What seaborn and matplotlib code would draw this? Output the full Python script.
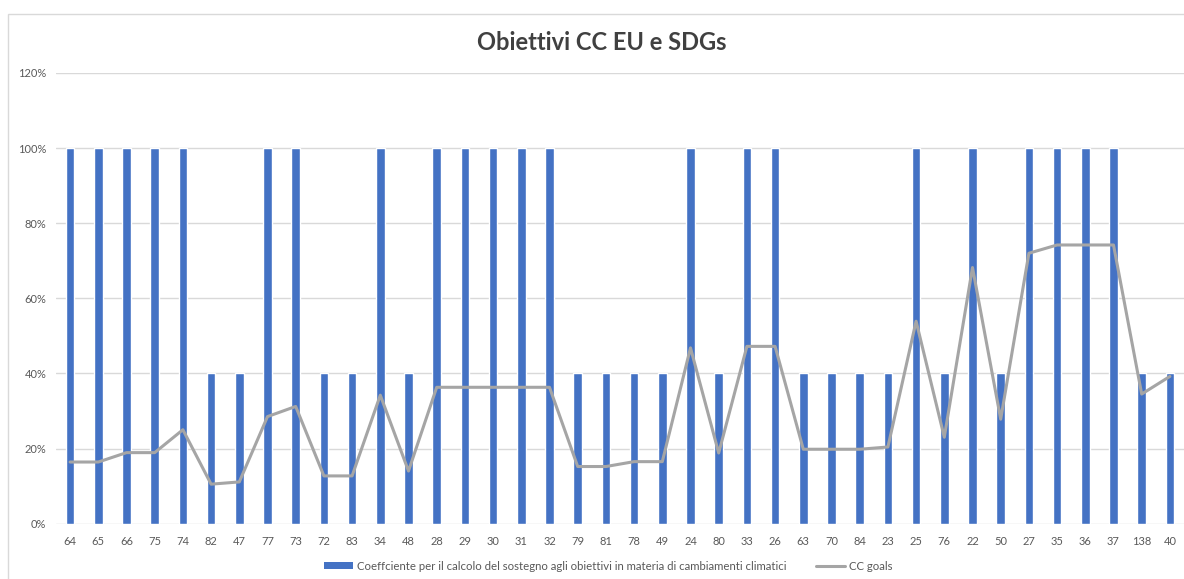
import matplotlib
matplotlib.use("Agg")
import matplotlib.pyplot as plt
import seaborn as sns
import numpy as np
import pandas as pd
from matplotlib.patches import Rectangle, Patch
from matplotlib.lines import Line2D
from matplotlib.ticker import PercentFormatter

categories = ["64", "65", "66", "75", "74", "82", "47", "77", "73", "72",
              "83", "34", "48", "28", "29", "30", "31", "32", "79", "81",
              "78", "49", "24", "80", "33", "26", "63", "70", "84", "23",
              "25", "76", "22", "50", "27", "35", "36", "37", "138", "40"]
coeff = [100, 100, 100, 100, 100, 40, 40, 100, 100, 40,
         40, 100, 40, 100, 100, 100, 100, 100, 40, 40,
         40, 40, 100, 40, 100, 100, 40, 40, 40, 40,
         100, 40, 100, 40, 100, 100, 100, 100, 40, 40]
cc_goals = [16.4, 16.4, 18.9, 18.9, 25.0, 10.5, 11.1, 28.5, 31.2, 12.7,
            12.7, 34.2, 14.0, 36.3, 36.3, 36.3, 36.3, 36.3, 15.2, 15.2,
            16.5, 16.5, 46.8, 18.8, 47.2, 47.2, 19.8, 19.8, 19.8, 20.4,
            53.9, 23.0, 68.2, 27.8, 72.0, 74.2, 74.2, 74.2, 34.5, 39.2]
title = "Obiettivi CC EU e SDGs"
bar_label = "Coeffciente per il calcolo del sostegno agli obiettivi in materia di cambiamenti climatici"
line_label = "CC goals"

sns.set_theme(style="white")
plt.rcParams['font.family'] = ['Lato', 'DejaVu Sans']

fig = plt.figure(figsize=(11.84, 5.79), dpi=100)
fig.patch.set_facecolor("white")
fig.add_artist(Rectangle((8/1184, -0.01), 1.2, 1 - 14/579 + 0.01, transform=fig.transFigure,
                         fill=False, edgecolor="#d9d9d9", linewidth=1.0))

ax = fig.add_axes([56/1184, 1 - 523.6/579, 1 - 56/1184, (523.6 - 73)/579])

df = pd.DataFrame({"cat": categories, "coeff": np.array(coeff) / 100,
                   "goals": np.array(cc_goals) / 100})

sns.barplot(data=df, x="cat", y="coeff", order=categories, color="#4472c4",
            saturation=1, width=0.3, ax=ax, errorbar=None, zorder=2)
sns.pointplot(data=df, x="cat", y="goals", order=categories, color="#a5a5a5",
              marker="", linewidth=2.2, ax=ax, errorbar=None, zorder=3)

ax.set_ylim(0, 1.2)
ax.set_yticks(np.arange(0, 1.21, 0.2))
ax.yaxis.set_major_formatter(PercentFormatter(1.0, decimals=0))
ax.set_xlim(-0.5, len(categories) - 0.5)
ax.grid(axis="y", color="#d9d9d9", linewidth=1.0, zorder=0)
ax.set_axisbelow(True)
for s in ax.spines.values():
    s.set_visible(False)
ax.set_xlabel("")
ax.set_ylabel("")
ax.tick_params(axis="both", length=0, labelsize=8, labelcolor="#595959")
ax.tick_params(axis="x", pad=9)
ax.tick_params(axis="y", pad=7)

fig.text(602/1184, 1 - 43/579, title, ha="center", va="center",
         fontsize=17, fontweight="bold", color="#404040")

handles = [Patch(facecolor="#4472c4", edgecolor="none"),
           Line2D([0], [0], color="#a5a5a5", linewidth=2.2)]
fig.legend(handles, [bar_label, line_label], loc="center",
           bbox_to_anchor=(608/1184, 1 - 566/579), ncol=2, frameon=False,
           fontsize=8.2, labelcolor="#595959", handlelength=2.6,
           handleheight=0.6, columnspacing=2.6, handletextpad=0.3)

fig.savefig("out.png", dpi=100, facecolor="white")
